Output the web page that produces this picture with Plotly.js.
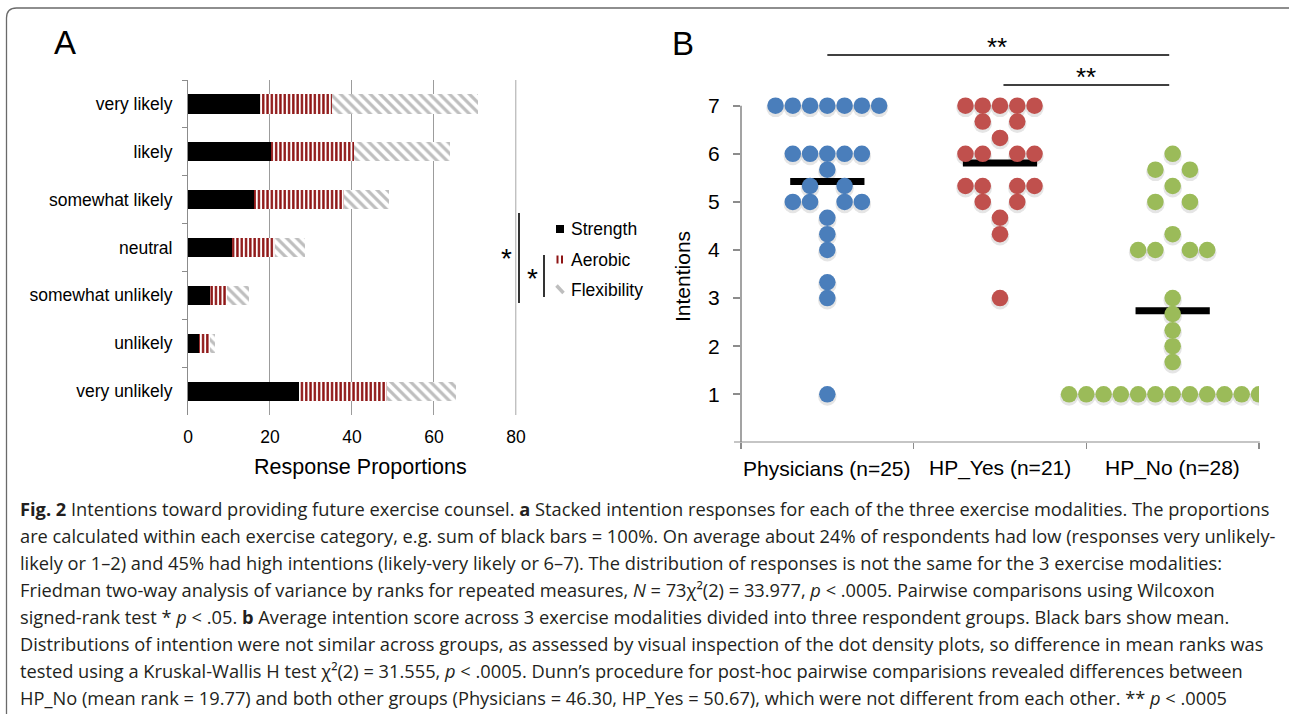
<!DOCTYPE html>
<html>
<head>
<meta charset="utf-8">
<script src="https://cdn.plot.ly/plotly-3.0.1.min.js"></script>
<style>
  html, body { margin: 0; padding: 0; background: #fff; }
  #chart { width: 1289px; height: 714px; }
</style>
</head>
<body>
<div id="chart"></div>
<script>
// ---------- Panel A data (response proportions, %) ----------
const categories = ['very likely', 'likely', 'somewhat likely', 'neutral', 'somewhat unlikely', 'unlikely', 'very unlikely'];
const strength    = [17.6, 20.3, 16.2, 10.8, 5.4, 2.7, 27.0];
const aerobic     = [17.6, 20.3, 21.9, 10.4, 4.1, 2.7, 21.6];
const flexibility = [35.5, 23.3, 10.9,  7.4, 5.4, 1.3, 16.7];
const xTicksA = [0, 20, 40, 60, 80];

// ---------- Panel B data (average intention scores) ----------
const groups = ['Physicians (n=25)', 'HP_Yes (n=21)', 'HP_No (n=28)'];
const physicians = [7, 7, 7, 7, 7, 7, 7, 6, 6, 6, 6, 6, 5.67, 5.33, 5.33, 5, 5, 5, 5, 4.67, 4.33, 4, 3.33, 3, 1];
const hpYes = [7, 7, 7, 7, 7, 6.67, 6.67, 6.33, 6, 6, 6, 6, 5.33, 5.33, 5.33, 5.33, 5, 5, 4.67, 4.33, 3];
const hpNo = [6, 5.67, 5.67, 5.33, 5, 5, 4.33, 4, 4, 4, 4, 3, 2.67, 2.33, 2, 1.67, 1, 1, 1, 1, 1, 1, 1, 1, 1, 1, 1, 1];
const yTicksB = [1, 2, 3, 4, 5, 6, 7];

// ---------- helpers ----------
const W = 1289, H = 714;
const px = x => x / W;
const py = y => 1 - y / H;
const FONT = 'Liberation Sans, Arial, Helvetica, sans-serif';
const CAPFONT = 'Open Sans, Noto Sans, sans-serif';
const colorsB = ['#4A7EBB', '#C0504D', '#9BBB59'];
const DOT_STEP = 0.1;

// dot-density slots for n dots in one row
function slots(n) {
  const out = [];
  if (n % 2 === 1) {
    for (let k = -(n - 1) / 2; k <= (n - 1) / 2; k++) out.push(k);
  } else if (n / 2 <= 5) {
    for (let k = 1; k <= n / 2; k++) { out.push(-k); out.push(k); }
  } else {
    for (let k = -n / 2; k < n / 2; k++) out.push(k);
  }
  return out;
}
function dotLayout(vals, gi) {
  const counts = {};
  vals.forEach(v => { const key = v.toFixed(2); counts[key] = (counts[key] || 0) + 1; });
  const xs = [], ys = [];
  Object.keys(counts).forEach(key => {
    slots(counts[key]).forEach(s => { xs.push(gi + s * DOT_STEP); ys.push(parseFloat(key)); });
  });
  return {xs, ys};
}
const mean = a => a.reduce((s, v) => s + v, 0) / a.length;

const traces = [];
// ---------- Panel A bars ----------
traces.push({
  type: 'bar', orientation: 'h', name: 'Strength', y: categories, x: strength,
  xaxis: 'x', yaxis: 'y', width: 0.4,
  marker: {color: '#000000', line: {width: 0}}
});
traces.push({
  type: 'bar', orientation: 'h', name: 'Aerobic', y: categories, x: aerobic,
  xaxis: 'x', yaxis: 'y', width: 0.4,
  marker: {color: '#ffffff', line: {width: 0},
    pattern: {shape: '|', fgcolor: '#8E1414', bgcolor: '#ffffff', size: 4.3, solidity: 0.55}}
});
traces.push({
  type: 'bar', orientation: 'h', name: 'Flexibility', y: categories, x: flexibility,
  xaxis: 'x', yaxis: 'y', width: 0.4,
  marker: {color: '#ffffff', line: {width: 0},
    pattern: {shape: '\\', fgcolor: '#BEBEBE', bgcolor: '#ffffff', size: 7, solidity: 0.45}}
});

// ---------- Panel B dots + means ----------
const dotSets = [physicians, hpYes, hpNo].map((vals, gi) => dotLayout(vals, gi));
// soft drop shadow under the dots
dotSets.forEach(d => {
  traces.push({
    type: 'scatter', mode: 'markers', x: d.xs, y: d.ys.map(v => v - 0.045), xaxis: 'x2', yaxis: 'y2',
    marker: {color: 'rgba(0,0,0,0.10)', size: 18.5, line: {width: 0}}, hoverinfo: 'skip'
  });
});
[physicians, hpYes, hpNo].forEach((vals, gi) => {
  const m = mean(vals);
  traces.push({
    type: 'scatter', mode: 'lines', x: [gi - 0.215, gi + 0.215], y: [m, m],
    xaxis: 'x2', yaxis: 'y2', line: {color: '#000', width: 7}, hoverinfo: 'skip'
  });
  const d = dotSets[gi];
  traces.push({
    type: 'scatter', mode: 'markers', x: d.xs, y: d.ys, xaxis: 'x2', yaxis: 'y2',
    name: groups[gi],
    marker: {color: colorsB[gi], size: 16.5, line: {width: 0}}
  });
});

// ---------- annotations ----------
const ann = [];
function txt(text, x, y, size, opts) {
  ann.push(Object.assign({text: text, x: px(x), y: py(y), xref: 'paper', yref: 'paper',
    showarrow: false, xanchor: 'center', yanchor: 'middle',
    font: {family: FONT, size: size, color: '#000'}}, opts || {}));
}
txt('A', 65, 42, 33);
txt('B', 683, 43, 33);
txt('Response Proportions', 360, 467, 21.5);
txt('Intentions', 683, 277, 21, {textangle: -90});
groups.forEach((g, i) => {
  ann.push({text: g, x: i, xref: 'x2', y: py(468), yref: 'paper', showarrow: false,
    xanchor: 'center', yanchor: 'middle', font: {family: FONT, size: 21, color: '#000'}});
});
// legend (manual)
txt('Strength', 569, 229, 17.5, {xanchor: 'left'});
txt('Aerobic', 569, 259.5, 17.5, {xanchor: 'left'});
txt('Flexibility', 569, 289.5, 17.5, {xanchor: 'left'});
// significance stars panel A
txt('*', 506, 258, 28);
txt('*', 532, 279, 28);
// significance stars panel B
ann.push({text: '**', x: 0.98, xref: 'x2', y: py(47), yref: 'paper', showarrow: false,
  xanchor: 'center', yanchor: 'middle', font: {family: FONT, size: 26, color: '#000'}});
ann.push({text: '**', x: 1.5, xref: 'x2', y: py(77), yref: 'paper', showarrow: false,
  xanchor: 'center', yanchor: 'middle', font: {family: FONT, size: 26, color: '#000'}});

// caption
const captionLines = [
  '<b>Fig. 2</b> Intentions toward providing future exercise counsel. <b>a</b> Stacked intention responses for each of the three exercise modalities. The proportions',
  'are calculated within each exercise category, e.g. sum of black bars = 100%. On average about 24% of respondents had low (responses very unlikely-',
  'likely or 1–2) and 45% had high intentions (likely-very likely or 6–7). The distribution of responses is not the same for the 3 exercise modalities:',
  'Friedman two-way analysis of variance by ranks for repeated measures, <i>N</i> = 73χ²(2) = 33.977, <i>p</i> &lt; .0005. Pairwise comparisons using Wilcoxon',
  'signed-rank test * <i>p</i> &lt; .05. <b>b</b> Average intention score across 3 exercise modalities divided into three respondent groups. Black bars show mean.',
  'Distributions of intention were not similar across groups, as assessed by visual inspection of the dot density plots, so difference in mean ranks was',
  'tested using a Kruskal-Wallis H test χ²(2) = 31.555, <i>p</i> &lt; .0005. Dunn’s procedure for post-hoc pairwise comparisions revealed differences between',
  'HP_No (mean rank = 19.77) and both other groups (Physicians = 46.30, HP_Yes = 50.67), which were not different from each other. ** <i>p</i> &lt; .0005'
];
captionLines.forEach((line, i) => {
  ann.push({text: line, x: px(18), y: py(508 + i * 27.1), xref: 'paper', yref: 'paper',
    showarrow: false, xanchor: 'left', yanchor: 'middle', align: 'left',
    font: {family: CAPFONT, size: 18.25, color: '#231f20'}});
});

// ---------- shapes ----------
const shapes = [];
function pline(x0, y0, x1, y1, color, width) {
  shapes.push({type: 'line', xref: 'paper', yref: 'paper', x0: px(x0), y0: py(y0), x1: px(x1), y1: py(y1),
    line: {color: color, width: width}});
}
// frame
const fr = 10;
shapes.push({type: 'path', xref: 'paper', yref: 'paper',
  path: `M ${px(6.5)},${py(714)} L ${px(6.5)},${py(8 + fr)} Q ${px(6.5)},${py(8)} ${px(6.5 + fr)},${py(8)} L ${px(1289)},${py(8)}`,
  line: {color: '#6a6a6a', width: 1.3}});
// panel A gridline at 80 (range edge)
shapes.push({type: 'line', xref: 'x', yref: 'y domain', x0: 80, x1: 80, y0: 0, y1: 1,
  line: {color: '#9c9c9c', width: 1}});
// panel A significance brackets
pline(519, 213, 519, 303, '#000', 1.6);
pline(544, 255, 544, 297, '#000', 1.6);
// legend swatches
shapes.push({type: 'rect', xref: 'paper', yref: 'paper', x0: px(556), x1: px(564), y0: py(225), y1: py(233),
  fillcolor: '#000', line: {width: 0}});
shapes.push({type: 'rect', xref: 'paper', yref: 'paper', x0: px(556.5), x1: px(558.5), y0: py(255.5), y1: py(263.5),
  fillcolor: '#8E1414', line: {width: 0}});
shapes.push({type: 'rect', xref: 'paper', yref: 'paper', x0: px(561), x1: px(563), y0: py(255.5), y1: py(263.5),
  fillcolor: '#8E1414', line: {width: 0}});
pline(556.5, 285.5, 563.5, 293, '#BEBEBE', 3.5);
// panel B axis lines: y spine (0..7) and x baseline (with the 0 tick stub)
shapes.push({type: 'line', xref: 'x2 domain', yref: 'y2', x0: 0, x1: 0, y0: 0, y1: 7,
  line: {color: '#8c8c8c', width: 1.6}});
shapes.push({type: 'line', xref: 'paper', yref: 'y2', x0: px(734), x1: px(1259.8), y0: 0, y1: 0,
  line: {color: '#8c8c8c', width: 1.6}});
// panel B significance lines
shapes.push({type: 'line', xref: 'x2', yref: 'paper', x0: 0, x1: 1.98, y0: py(55), y1: py(55), line: {color: '#000', width: 1.6}});
shapes.push({type: 'line', xref: 'x2', yref: 'paper', x0: 1.02, x1: 1.98, y0: py(85), y1: py(85), line: {color: '#000', width: 1.6}});

const layout = {
  width: W, height: H,
  margin: {l: 0, r: 0, t: 0, b: 0},
  paper_bgcolor: '#ffffff', plot_bgcolor: 'rgba(0,0,0,0)',
  showlegend: false, barmode: 'stack', hovermode: false,
  font: {family: FONT, color: '#000'},
  xaxis: {
    domain: [px(188), px(516.7)], range: [0, 80.2], tickvals: xTicksA,
    showgrid: true, gridcolor: '#9c9c9c', gridwidth: 1, zeroline: false, showline: false,
    ticks: '', tickfont: {family: FONT, size: 17.5, color: '#000'}, ticklabelstandoff: 9,
    anchor: 'y', fixedrange: true
  },
  yaxis: {
    domain: [py(415), py(80)], type: 'category', categoryarray: categories, categoryorder: 'array',
    autorange: 'reversed', tickson: 'boundaries', ticks: 'outside', ticklen: 5, tickcolor: '#8c8c8c',
    showline: true, linecolor: '#8c8c8c', linewidth: 1, showgrid: false, zeroline: false,
    tickfont: {family: FONT, size: 17.5, color: '#000'}, ticklabelstandoff: 11,
    anchor: 'x', fixedrange: true
  },
  xaxis2: {
    domain: [px(741), px(1259)], range: [-0.5, 2.5], tickvals: [-0.5, 0.5, 1.5, 2.5],
    showticklabels: false,
    ticks: 'outside', ticklen: 6, tickwidth: 1.6, tickcolor: '#8c8c8c',
    showline: false, showgrid: false, zeroline: false,
    anchor: 'y2', fixedrange: true
  },
  yaxis2: {
    domain: [py(442.4), py(442.4 - 8.4 * 48.1)], range: [0, 8.4], tickvals: yTicksB,
    ticks: 'outside', ticklen: 7, tickwidth: 1.6, tickcolor: '#8c8c8c',
    showline: false, showgrid: false, zeroline: false,
    tickfont: {family: FONT, size: 21, color: '#000'}, ticklabelstandoff: 9,
    anchor: 'x2', fixedrange: true
  },
  annotations: ann,
  shapes: shapes
};

Plotly.newPlot('chart', traces, layout, {staticPlot: true, displayModeBar: false});
</script>
</body>
</html>
